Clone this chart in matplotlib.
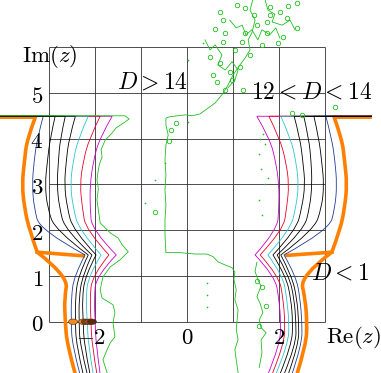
import matplotlib
matplotlib.use("Agg")
import matplotlib.pyplot as plt
from matplotlib.patches import Ellipse, PathPatch
from matplotlib.path import Path

plt.rcParams['mathtext.fontset'] = 'cm'

# ---- data ----
Y_TOP = 4.49
Y_UP = [4.48, 4.0, 3.5, 3.0, 2.5, 2.0]
Y_LO = [1.0, 0.5, 0.0, -0.5, -1.15]
Y_TIP = 1.46
X_FAR_LEFT = -4.3
X_FAR_RIGHT = 4.02

# drawn from bottom to top
names = ['magenta', 'red', 'cyan', 'blue', 'black3', 'black2', 'black1']
colors = ['#c800c8', '#e8002a', '#2ec4d0', '#203c94', 'black', 'black', 'black']

left_upper = {
    'blue':    [-3.13, -3.26, -3.33, -3.37, -3.33, -3.20],
    'black1':  [-2.87, -2.98, -3.04, -3.09, -3.04, -2.87],
    'black2':  [-2.65, -2.76, -2.80, -2.83, -2.78, -2.65],
    'black3':  [-2.43, -2.57, -2.63, -2.67, -2.61, -2.48],
    'cyan':    [-2.15, -2.37, -2.48, -2.54, -2.48, -2.35],
    'red':     [-1.89, -2.13, -2.26, -2.33, -2.28, -2.20],
    'magenta': [-1.63, -1.91, -2.04, -2.11, -2.11, -2.07],
}
left_tip = {'blue': -2.22, 'black1': -2.15, 'black2': -2.07, 'black3': -1.98,
            'cyan': -1.87, 'red': -1.70, 'magenta': -1.54}
left_lower = {
    'blue':    [-2.46, -2.52, -2.52, -2.50, -2.33],
    'black1':  [-2.37, -2.43, -2.43, -2.41, -2.26],
    'black2':  [-2.28, -2.35, -2.35, -2.33, -2.17],
    'black3':  [-2.22, -2.28, -2.26, -2.24, -2.11],
    'cyan':    [-2.15, -2.20, -2.17, -2.15, -2.04],
    'red':     [-2.07, -2.11, -2.09, -2.07, -1.96],
    'magenta': [-1.98, -2.02, -2.00, -1.98, -1.89],
}
right_upper = {
    'blue':    [3.02, 3.15, 3.22, 3.26, 3.22, 3.09],
    'black1':  [2.76, 2.87, 2.93, 2.98, 2.93, 2.76],
    'black2':  [2.54, 2.65, 2.70, 2.72, 2.67, 2.54],
    'black3':  [2.33, 2.46, 2.52, 2.57, 2.50, 2.37],
    'cyan':    [2.04, 2.26, 2.37, 2.43, 2.37, 2.24],
    'red':     [1.78, 2.02, 2.15, 2.22, 2.17, 2.09],
    'magenta': [1.52, 1.80, 1.93, 2.00, 2.00, 1.96],
}
right_tip = {'blue': 2.11, 'black1': 2.04, 'black2': 1.96, 'black3': 1.87,
             'cyan': 1.76, 'red': 1.59, 'magenta': 1.48}
right_lower = {
    'blue':    [2.37, 2.46, 2.50, 2.50, 2.28],
    'black1':  [2.28, 2.39, 2.43, 2.43, 2.20],
    'black2':  [2.22, 2.33, 2.37, 2.37, 2.11],
    'black3':  [2.15, 2.26, 2.30, 2.28, 2.02],
    'cyan':    [2.09, 2.17, 2.22, 2.20, 1.93],
    'red':     [2.00, 2.09, 2.13, 2.11, 1.85],
    'magenta': [1.91, 2.00, 2.04, 2.02, 1.76],
}

# thick orange boundary (D < 1)
orange_left_up = [-3.30, -3.48, -3.54, -3.59, -3.54, -3.43, -3.26]
orange_left_step = [-2.26, 1.44]
orange_left_lo = [-2.59, -2.67, -2.65, -2.61, -2.43]
orange_right_up = [3.20, 3.37, 3.43, 3.48, 3.43, 3.33, 3.15]
orange_right_step = [2.17, 1.45]
orange_up_y = [4.47, 4.0, 3.5, 3.0, 2.5, 2.0, 1.52]
orange_right_lo = [2.46, 2.57, 2.61, 2.59, 2.39]

# noisy green boundary (D > 14), left branch
green_left_x = [-4.3, -1.35, -1.26, -1.37, -1.54, -1.67, -1.78, -1.87, -1.85, -1.91, -1.94,
                -1.96, -1.93, -1.96, -1.89, -1.67, -1.50, -1.41, -1.28, -1.46, -1.67,
                -1.83, -1.89, -1.85, -1.61, -1.57, -1.61, -1.57, -1.67, -1.74, -1.83, -1.74]
green_left_y = [4.50, 4.50, 4.43, 4.35, 4.24, 4.08, 3.97, 3.76, 3.60, 3.43, 3.25,
                3.10, 2.90, 2.66, 2.16, 1.94, 1.83, 1.68, 1.53, 1.35, 1.20,
                0.98, 0.70, 0.52, 0.37, 0.20, -0.02, -0.33, -0.46, -0.61, -0.83, -1.11]

# central green level curve
green_mid_x = [1.43, 1.37, 1.48, 1.41, 1.33, 1.37, 1.26, 1.15, 1.00, 0.89, 0.76, 0.61,
               0.46, 0.28, 0.11, -0.04, -0.20, -0.37, -0.46, -0.46, -0.41, -0.46, -0.48,
               -0.46, -0.48, -0.46, -0.48, -0.48, -0.46, -0.15, 0.17, 0.43, 0.57, 0.67,
               0.83, 0.98, 1.04, 1.02, 1.07, 1.04, 1.11, 1.09, 1.07, 1.11, 1.04, 1.07, 1.11]
green_mid_y = [7.03, 6.81, 6.59, 6.31, 6.16, 5.94, 5.76, 5.61, 5.39, 5.17, 4.96, 4.78,
               4.67, 4.54, 4.50, 4.52, 4.50, 4.48, 4.45, 4.30, 4.08, 3.86, 3.54,
               3.21, 2.88, 2.55, 2.23, 1.90, 1.51, 1.51, 1.48, 1.48, 1.42, 1.31,
               1.24, 1.18, 1.09, 0.92, 0.70, 0.48, 0.26, 0.04, -0.17, -0.39, -0.61, -0.83, -1.11]

# tangled green pieces above the grid
tangle_a_x = [0.39, 0.50, 0.61, 0.76, 0.67, 0.83, 0.98, 1.11, 1.04, 0.89]
tangle_a_y = [6.16, 5.94, 6.05, 5.83, 5.61, 5.50, 5.68, 5.50, 5.28, 5.11]
tangle_b_x = [0.93, 1.07, 1.20, 1.28, 1.41, 1.54, 1.63, 1.80, 1.93, 2.02]
tangle_b_y = [6.59, 6.42, 6.48, 6.27, 6.38, 6.16, 6.38, 6.27, 6.42, 6.20]
tangle_c_x = [1.70, 1.76, 1.91, 1.85, 2.07, 2.24, 2.35]
tangle_c_y = [7.03, 6.81, 6.72, 6.55, 6.48, 6.59, 6.38]

# right green branch, lower chain
green_right_x = [1.52, 1.48, 1.54, 1.61, 1.52, 1.59, 1.65, 1.57, 1.61, 1.72, 1.61, 1.63, 1.57]
green_right_y = [1.30, 1.10, 0.92, 0.78, 0.55, 0.40, 0.20, 0.04, -0.13, -0.24, -0.40, -0.68, -1.0]

# small green loops and specks
loops_x = [0.72, 0.78, 1.09, 1.26, 1.80, 1.80, 2.02, 2.17, 2.39, 1.52, 1.74, 0.83, 1.26,
           1.74, 2.09, 2.39, 1.20, 1.63, 1.98, 0.78, 1.04, 1.37, 0.50, 0.72, 1.15, 0.57,
           0.94, 0.65, 0.98, 0.83, 1.22, 2.28, 2.50, 3.22, -0.70, 1.52, 1.63, 1.72, 1.57,
           -0.35, -0.25, -0.40, 1.45, 2.20, 0.60]
loops_y = [6.77, 6.59, 6.92, 6.86, 6.88, 6.70, 6.77, 6.64, 6.96, 6.48, 6.55, 6.31, 6.31,
           6.31, 6.22, 6.42, 6.11, 6.05, 6.09, 6.11, 5.94, 5.83, 5.79, 5.66, 5.57, 5.39,
           5.46, 5.24, 5.28, 5.07, 5.07, 4.57, 4.52, 4.69, 2.40, 0.90, 0.75, 0.35, -0.10,
           4.20, 4.35, 3.95, 6.70, 6.90, 6.40]
specks_x = [-0.70, -0.91, -0.48, 0.02, 0.43, 0.43, 0.43, 1.65, 1.70, 1.57, 1.61, 1.70,
            1.57, 1.63, 0.35, 0.02, 1.59, 1.76]
specks_y = [3.10, 2.60, 3.47, 4.37, 0.85, 0.59, 0.33, 4.11, 3.89, 3.67, 3.34, 3.01,
            2.66, 2.33, 6.09, 5.72, 4.00, 3.13]

# markers on the real axis
cross_x = [-2.48, -2.26, -2.20, -2.13, -2.07]
cross_colors = ['#f28a20', '#e8801f', '#7a4218', '#9a5522', '#5a2a10']

grid_x = [-3, -2, -1, 0, 1, 2, 3]
grid_y = [0, 1, 2, 3, 4, 5, 6]
xtick_vals = [-2, 0, 2]
ytick_vals = [0, 1, 2, 3, 4, 5]


def smooth_piece(xs, ys):
    # quadratic bezier through the midpoints, ends kept fixed
    verts, codes = [], []
    for i in range(1, len(xs) - 1):
        if i < len(xs) - 2:
            end = ((xs[i] + xs[i + 1]) / 2, (ys[i] + ys[i + 1]) / 2)
        else:
            end = (xs[-1], ys[-1])
        verts += [(xs[i], ys[i]), end]
        codes += [Path.CURVE3, Path.CURVE3]
    if len(xs) == 2:
        verts, codes = [(xs[1], ys[1])], [Path.LINETO]
    return verts, codes


def boundary(ax, far_x, top_y, up_x, up_y, lo_x, lo_y, **kw):
    verts = [(far_x, top_y), (up_x[0], top_y)]
    codes = [Path.MOVETO, Path.LINETO]
    v, c = smooth_piece(up_x, up_y)
    verts += v; codes += c
    v, c = smooth_piece(lo_x, lo_y)
    verts += v; codes += c
    ax.add_patch(PathPatch(Path(verts, codes), fill=False, **kw))


# ---- plotting ----
fig = plt.figure(figsize=(3.81, 3.73), dpi=100)
ax = fig.add_axes([0, 0, 1, 1])
ax.set_xlim(-4.07, 4.22)
ax.set_ylim(-1.12, 7.03)
ax.axis('off')

ax.vlines(grid_x, grid_y[0], grid_y[-1], color='#303030', lw=0.6, zorder=1)
ax.hlines(grid_y, grid_x[0], grid_x[-1], color='#303030', lw=0.6, zorder=1)

orange = '#ff8000'
okw = dict(edgecolor=orange, lw=2.6, joinstyle='miter', zorder=2)
boundary(ax, X_FAR_LEFT, orange_up_y[0], orange_left_up, orange_up_y,
         [orange_left_step[0]] + orange_left_lo, [orange_left_step[1]] + Y_LO, **okw)
ax.plot([orange_left_up[-1], orange_left_step[0]], [orange_up_y[-1], orange_left_step[1]],
        color=orange, lw=2.6, zorder=2)
boundary(ax, X_FAR_RIGHT, orange_up_y[0], orange_right_up, orange_up_y,
         [orange_right_step[0]] + orange_right_lo, [orange_right_step[1]] + Y_LO, **okw)
ax.plot([orange_right_up[-1], orange_right_step[0]], [orange_up_y[-1], orange_right_step[1]],
        color=orange, lw=2.6, zorder=2)

for name, c in zip(names, colors):
    boundary(ax, X_FAR_LEFT, Y_TOP, left_upper[name] + [left_tip[name]], Y_UP + [Y_TIP],
             [left_tip[name]] + left_lower[name], [Y_TIP] + Y_LO, edgecolor=c, lw=0.6, zorder=3)
    boundary(ax, X_FAR_RIGHT, Y_TOP, right_upper[name] + [right_tip[name]], Y_UP + [Y_TIP],
             [right_tip[name]] + right_lower[name], [Y_TIP] + Y_LO, edgecolor=c, lw=0.6, zorder=3)

green = '#1fbf1f'
for gx, gy in [(green_left_x, green_left_y), (green_mid_x, green_mid_y),
               (green_right_x, green_right_y), (tangle_a_x, tangle_a_y),
               (tangle_b_x, tangle_b_y), (tangle_c_x, tangle_c_y)]:
    ax.plot(gx, gy, color=green, lw=0.6, zorder=3)
ax.plot(loops_x, loops_y, 'o', mfc='none', mec=green, ms=3.2, mew=0.6, zorder=3)
ax.plot(specks_x, specks_y, 'o', color=green, ms=1.2, mew=0, zorder=3)

for cx, cc in zip(cross_x, cross_colors):
    ax.add_patch(Ellipse((cx, 0), 0.2, 0.12, facecolor=cc, edgecolor='#4a2a10',
                         lw=0.4, zorder=4))

fs = 16.5
for v in ytick_vals:
    ax.text(-3.13, v - 0.07, r'$%d$' % v, ha='right', va='center', fontsize=fs)
for v in xtick_vals:
    ax.text(v - 0.08 * (v < 0), -0.35, r'$%d$' % v, ha='center', va='center', fontsize=fs)
ax.text(-2.99, 5.79, r'$\mathrm{Im}(z)$', ha='center', va='center', fontsize=fs)
ax.text(3.63, -0.35, r'$\mathrm{Re}(z)$', ha='center', va='center', fontsize=fs)
ax.text(-0.75, 5.24, r'$D>14$', ha='center', va='center', fontsize=17)
ax.text(2.72, 5.03, r'$12<D<14$', ha='center', va='center', fontsize=17)
ax.text(3.32, 1.07, r'$D<1$', ha='center', va='center', fontsize=17)

fig.savefig('out.png', dpi=100)
